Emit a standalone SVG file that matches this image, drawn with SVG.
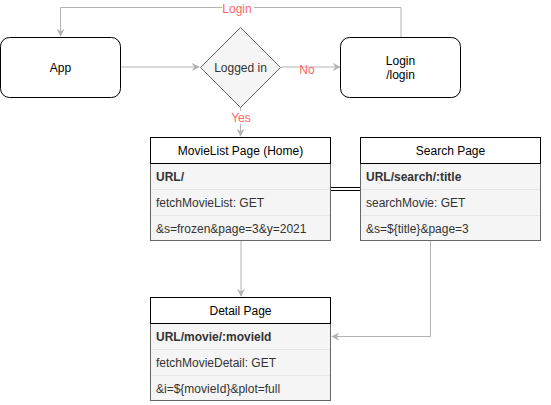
<svg xmlns="http://www.w3.org/2000/svg" width="551" height="405" viewBox="0 0 551 405">
<style>
text{font-family:"Liberation Sans",Arial,sans-serif;font-size:12px}
.c{text-anchor:middle;dominant-baseline:central}
.l{dominant-baseline:central;fill:#333333}
.b{font-weight:bold}
.lbl{fill:#FF6666;text-anchor:middle;dominant-baseline:central}
.e{fill:none;stroke:#B3B3B3;stroke-width:1}
.node{fill:#ffffff;stroke:#000000;stroke-width:1}
.row{fill:#f5f5f5;stroke:#666666;stroke-width:1}
.sep{stroke:#e6e6e6;stroke-width:1}
.hdr{fill:#ffffff;stroke:#000000;stroke-width:1}
</style>
<defs>
<marker id="ah" viewBox="0 0 10 10" refX="9" refY="5" markerWidth="8" markerHeight="8" markerUnits="userSpaceOnUse" orient="auto">
<path d="M0,0 L10,5 L0,10 L3,5 Z" fill="#B3B3B3"/>
</marker>
</defs>
<g id="connectors">
<path class="e" d="M401,37 V7.5 H60.5 V36" marker-end="url(#ah)"/>
<rect x="222" y="1" width="32" height="14" fill="#ffffff"/>
<text class="lbl" x="237" y="8.5">Login</text>
<path class="e" d="M121,67 H199" marker-end="url(#ah)"/>
<path class="e" d="M281,67 H340" marker-end="url(#ah)"/>
<text class="lbl" x="307" y="70">No</text>
<path class="e" d="M240.5,107 V136" marker-end="url(#ah)"/>
<rect x="230" y="111" width="22" height="13" fill="#ffffff"/>
<text class="lbl" x="241" y="118">Yes</text>
<path class="e" d="M241,241 V296" marker-end="url(#ah)"/>
<path class="e" d="M430.5,241 V336.5 H332" marker-end="url(#ah)"/>
<path d="M331,187.5 H361 M331,190.5 H361" stroke="#000000" stroke-width="1" fill="none"/>
</g>
<g id="app">
<rect class="node" x="0.5" y="37.5" width="120" height="60" rx="9" ry="9"/>
<text class="c" x="60.5" y="67.5">App</text>
</g>
<g id="logged-in">
<path d="M240.5,27.5 L280.5,67.5 L240.5,107.5 L200.5,67.5 Z" fill="#f5f5f5" stroke="#666666" stroke-width="1"/>
<text class="c" x="240.5" y="67.5" fill="#333333">Logged in</text>
</g>
<g id="login">
<rect class="node" x="340.5" y="37.5" width="120" height="60" rx="9" ry="9"/>
<text class="c" x="400.5" y="60.5">Login</text>
<text class="c" x="400.5" y="74.5">/login</text>
</g>
<g id="movielist">
<rect class="row" x="150.5" y="163.5" width="180" height="77"/>
<line class="sep" x1="151" y1="189.5" x2="330" y2="189.5"/>
<line class="sep" x1="151" y1="215.5" x2="330" y2="215.5"/>
<rect class="hdr" x="150.5" y="137.5" width="180" height="26"/>
<text class="c" x="240.5" y="150.5">MovieList Page (Home)</text>
<text class="l b" x="156" y="176.5">URL/</text>
<text class="l" x="156" y="202.5">fetchMovieList: GET</text>
<text class="l" x="156" y="228.5">&amp;s=frozen&amp;page=3&amp;y=2021</text>
</g>
<g id="search">
<rect class="row" x="360.5" y="163.5" width="180" height="77"/>
<line class="sep" x1="361" y1="189.5" x2="540" y2="189.5"/>
<line class="sep" x1="361" y1="215.5" x2="540" y2="215.5"/>
<rect class="hdr" x="360.5" y="137.5" width="180" height="26"/>
<text class="c" x="450.5" y="150.5">Search Page</text>
<text class="l b" x="366" y="176.5">URL/search/:title</text>
<text class="l" x="366" y="202.5">searchMovie: GET</text>
<text class="l" x="366" y="228.5">&amp;s=${title}&amp;page=3</text>
</g>
<g id="detail">
<rect class="row" x="150.5" y="323.5" width="180" height="77"/>
<line class="sep" x1="151" y1="349.5" x2="330" y2="349.5"/>
<line class="sep" x1="151" y1="375.5" x2="330" y2="375.5"/>
<rect class="hdr" x="150.5" y="297.5" width="180" height="26"/>
<text class="c" x="240.5" y="310.5">Detail Page</text>
<text class="l b" x="156" y="336.5">URL/movie/:movieId</text>
<text class="l" x="156" y="362.5">fetchMovieDetail: GET</text>
<text class="l" x="156" y="388.5">&amp;i=${movieId}&amp;plot=full</text>
</g>
</svg>
